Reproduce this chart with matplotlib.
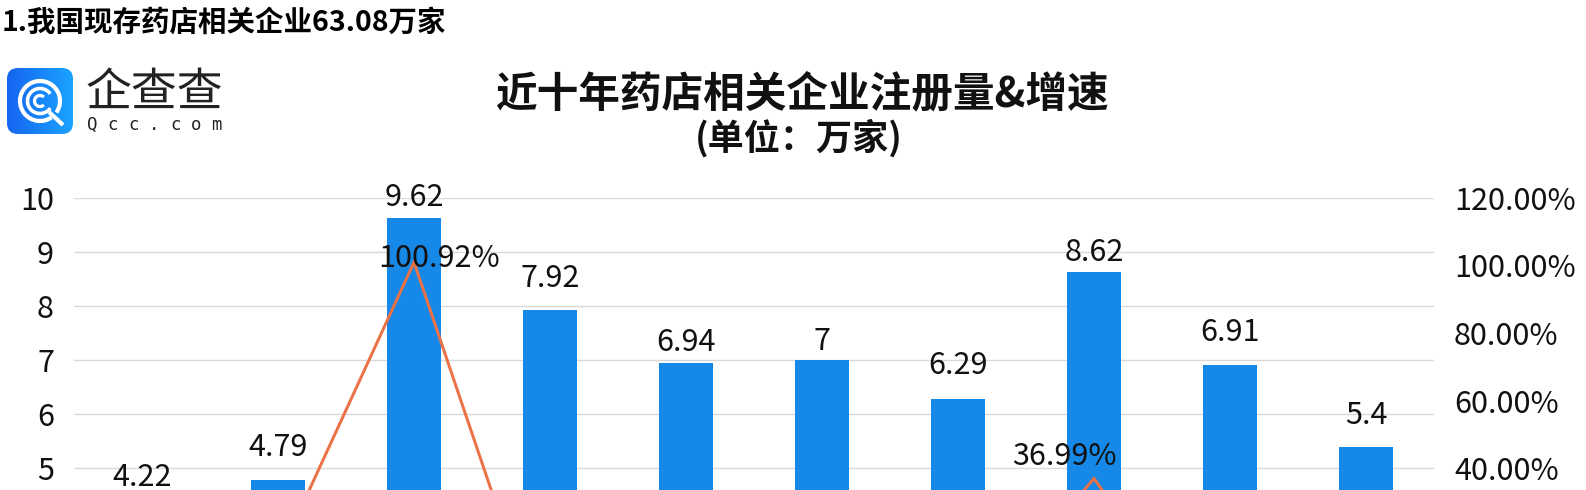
import numpy as np
import matplotlib
matplotlib.use("Agg")
import matplotlib.pyplot as plt
from matplotlib.patches import FancyBboxPatch, Arc
from matplotlib.ticker import FixedLocator, FuncFormatter
from matplotlib.colors import LinearSegmentedColormap

plt.rcParams['font.family'] = ['Noto Sans CJK SC', 'DejaVu Sans']

# ---------------- data ----------------
years = ["2012", "2013", "2014", "2015", "2016", "2017", "2018", "2019", "2020", "2021"]
registrations = [4.22, 4.79, 9.62, 7.92, 6.94, 7.00, 6.29, 8.62, 6.91, 5.40]      # 万家
growth_pct = [18.00, 13.51, 100.92, -17.67, -12.37, 0.86, -10.14, 36.99, -19.84, -21.85]  # %
bar_labels = ["4.22", "4.79", "9.62", "7.92", "6.94", "7", "6.29", "8.62", "6.91", "5.4"]
left_ticks = list(range(0, 11))
right_ticks = [-40, -20, 0, 20, 40, 60, 80, 100, 120]

header = "1.我国现存药店相关企业63.08万家"
title = "近十年药店相关企业注册量&增速"
subtitle = "(单位：万家)"

# label offsets (pixels) for fine placement
bar_lab_dy = [33, 32, 20.6, 32, 20.7, 18.7, 32.7, 20, 32, 31.6]
line_lab_dx = [0, 0, 25.5, 0, 0, 0, 0, -30, 0, 0]
line_lab_dy = [22, 22, 4, 22, 22, 22, 22, 22, 22, 22]

BAR = "#1689E8"
LINE = "#EB7146"
GRID = "#D9D9D9"
TXT = "#111111"
NUM_FS = 22

W, H, DPI = 1586, 490, 100
fig = plt.figure(figsize=(W / DPI, H / DPI), dpi=DPI)
fig.patch.set_facecolor("white")

def fx(px):
    return px / W

def fy(py):
    return (H - py) / H

PT = 72.0 / DPI  # points per pixel

# main axes (extends below the visible canvas, as in the cropped reference)
ax_left, ax_right = 74, 1434
ax_top, ax_bottom = 197.7, 739.0
ax = fig.add_axes([fx(ax_left), fy(ax_bottom), fx(ax_right - ax_left), (ax_bottom - ax_top) / H])
x = np.arange(len(years))
ax.bar(x, registrations, width=0.395, color=BAR, zorder=2)
ax.set_xlim(-0.5, len(years) - 0.5)
ax.set_ylim(0, 10)
ax.yaxis.set_major_locator(FixedLocator(left_ticks))
ax.grid(axis="y", color=GRID, linewidth=1.0, zorder=0)
ax.set_axisbelow(True)
ax.set_xticks(x)
ax.set_xticklabels(years)
for s in ax.spines.values():
    s.set_visible(False)
ax.tick_params(axis="y", length=0, pad=20 * PT, labelsize=NUM_FS, labelcolor=TXT)
ax.tick_params(axis="x", length=0, labelsize=NUM_FS)

for i, v in enumerate(registrations):
    ax.annotate(bar_labels[i], (x[i], v), xytext=(0, bar_lab_dy[i] * PT),
                textcoords="offset points", ha="center", va="center",
                fontsize=NUM_FS, color=TXT, zorder=5)

ax2 = ax.twinx()
ax2.set_ylim(-40, 120)
ax2.yaxis.set_major_locator(FixedLocator(right_ticks))
ax2.yaxis.set_major_formatter(FuncFormatter(lambda v, p: f"{v:.2f}%"))
for s in ax2.spines.values():
    s.set_visible(False)
ax2.tick_params(axis="y", length=0, pad=20 * PT, labelsize=NUM_FS, labelcolor=TXT)
ax2.plot(x, growth_pct, color=LINE, linewidth=3 * PT, zorder=3, solid_joinstyle="miter")
for i, v in enumerate(growth_pct):
    ax2.annotate(f"{v:.2f}%", (x[i], v), xytext=(line_lab_dx[i] * PT, line_lab_dy[i] * PT),
                 textcoords="offset points", ha="center", va="center",
                 fontsize=NUM_FS, color=TXT, zorder=6)

# texts
fig.text(fx(2), fy(23), header, ha="left", va="center", fontsize=20.5, fontweight="bold", color="#000000")
fig.text(fx(802), fy(94), title, ha="center", va="center", fontsize=30, fontweight="bold", color="#111111")
fig.text(fx(799), fy(138), subtitle, ha="center", va="center", fontsize=26, fontweight="bold", color="#111111")

# logo
lax = fig.add_axes([fx(7), fy(134), fx(66), 66 / H])
lax.set_xlim(0, 66)
lax.set_ylim(0, 66)
lax.axis("off")
grad = np.linspace(0, 1, 100).reshape(1, -1)
cm = LinearSegmentedColormap.from_list("lg", ["#1565F0", "#1AA3FF"])
im = lax.imshow(grad, extent=[0, 66, 0, 66], cmap=cm, aspect="auto", zorder=1)
box = FancyBboxPatch((0, 0), 66, 66, boxstyle="round,pad=0,rounding_size=11",
                     transform=lax.transData, facecolor="none", edgecolor="none")
lax.add_patch(box)
im.set_clip_path(box)
wl = 4.2 * PT
lax.add_patch(Arc((33, 33), 40, 40, theta1=-35, theta2=305, color="white", lw=wl, zorder=3))
lax.plot([42, 56], [22, 9], color="white", lw=wl, solid_capstyle="butt", zorder=3)
lax.add_patch(Arc((33, 33), 25, 25, theta1=35, theta2=325, color="white", lw=3.6 * PT, zorder=3))
lax.add_patch(Arc((33, 33), 11, 11, theta1=45, theta2=315, color="white", lw=3.2 * PT, zorder=3))

fig.text(fx(154), fy(93), "企查查", ha="center", va="center", fontsize=33, color="#222222",
         fontweight="normal")
q = "Qcc.com"
for k, ch in enumerate(q):
    fig.text(fx(92 + k * 20.8), fy(125), ch, ha="center", va="center", fontsize=12.5,
             color="#222222", family=["DejaVu Sans Mono", "DejaVu Sans"])

fig.savefig("out.png", dpi=DPI, facecolor="white")
